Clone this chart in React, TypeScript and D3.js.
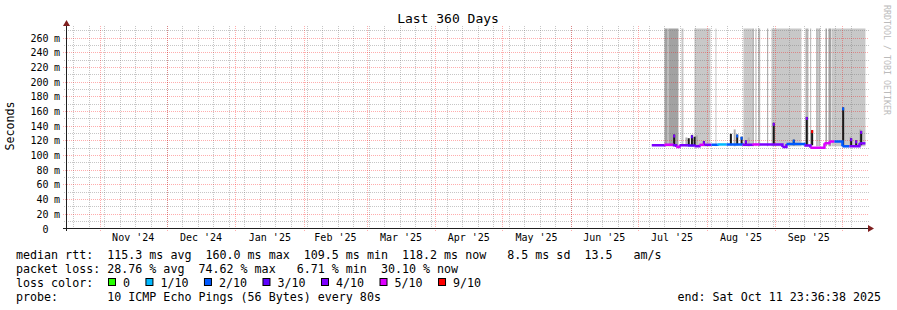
import React from 'react';
import * as d3 from 'd3';

const W = 897;
const H = 310;
const END_MS = Date.UTC(2025, 9, 11, 23, 36, 38);
const SPAN_DAYS = 360;

// Times are "day of 2025" (days since 2025-01-01 00:00)
const lineDays = [187.35, 193.06, 196.8, 198.33, 199.81, 203.41, 206.56, 208.81, 211.06, 214.21, 216.91, 220.96, 228.16, 232.66, 235.81, 246.16, 247.96, 256.06, 258.76, 265.06, 267.31, 269.56, 273.16, 276.31, 280.81];
const lineValues = [113.5, 114, 113.5, 111, 113.5, 113, 112, 114, 114, 114, 114.5, 114.5, 114, 114.5, 114.5, 111, 115, 113, 110, 116, 118.5, 118.5, 112, 112, 116];
const lineLoss = [4, 5, 4, 5, 4, 3, 4, 5, 4, 2, 1, 2, 4, 5, 4, 4, 2, 4, 5, 5, 5, 2, 2, 4, 4];
const lineEndDay = 283.51;

const spikeDays = [197.43, 204.0, 205.41, 206.63, 210.81, 222.96, 225.8, 227.78, 229.71, 242.25, 251.25, 257.1, 259.53, 273.48, 277.08, 279.33, 281.58];
const spikeTops = [128, 123, 127, 125, 119, 129, 128, 125, 120, 144, 121, 152, 134, 165, 123, 120, 133];
const spikeLoss = [4, -1, 3, -1, 4, -1, 2, 2, 4, 4, 2, 4, 6, 2, 4, 4, 4];

const smokeStart = [193.06, 194.55, 194.86, 200.71, 206.56, 216.01, 228.61, 232.53, 234.01, 235.23, 239.28, 241.21, 256.51, 258.63, 261.46, 261.46, 262.8, 265.51, 266.86, 268.21];
const smokeEnd = [194.55, 194.86, 199.36, 201.61, 213.76, 216.46, 232.44, 233.34, 234.46, 236.13, 239.73, 254.71, 257.86, 259.08, 263.04, 261.8, 263.04, 266.19, 267.99, 283.51];
const smokeShade = [2, 0, 2, 0, 0, 0, 0, 1, 1, 1, 2, 0, 1, 1, 0, 2, 2, 2, 2, 0];
const smokeBottom = 112;

const lowSmokeDays = [202.94, 205.64, 207.66, 224.66, 230.96, 259.09, 276.76, 281.14];
const lowSmokeTops = [124, 128, 127, 135, 124, 132, 125, 135];

const yTicks = [0, 20, 40, 60, 80, 100, 120, 140, 160, 180, 200, 220, 240, 260];
const yMinor = [10, 30, 50, 70, 90, 110, 130, 150, 170, 190, 210, 230, 250, 270];

const lossLabels = ['0', '1/10', '2/10', '3/10', '4/10', '5/10', '9/10'];
const lossColors = ['#26ff00', '#00b8ff', '#0059ff', '#5e00ff', '#7e00ff', '#dd00ff', '#ff0000'];
const smokeColors = ['#c8c8c8', '#b4b4b4', '#a2a2a2'];

const legendLine1 = 'median rtt:  115.3 ms avg  160.0 ms max  109.5 ms min  118.2 ms now   8.5 ms sd  13.5   am/s';
const legendLine2 = 'packet loss: 28.76 % avg  74.62 % max   6.71 % min  30.10 % now';
const legendLine3 = 'loss color:';
const legendLine4 = 'probe:       10 ICMP Echo Pings (56 Bytes) every 80s';
const endText = 'end: Sat Oct 11 23:36:38 2025';
const titleText = 'Last 360 Days';
const yLabel = 'Seconds';
const sideText = 'RRDTOOL / TOBI OETIKER';

const MONO = '"DejaVu Sans Mono", monospace';
const dayToDate = (d: number) => new Date(Date.UTC(2025, 0, 1) + d * 864e5);

export default function App() {
  const endDate = new Date(END_MS);
  const startDate = new Date(END_MS - SPAN_DAYS * 864e5);
  const x = d3.scaleUtc().domain([startDate, endDate]).range([66.5, 866.5]);
  const y = d3.scaleLinear().domain([0, 272.5]).range([228.5, 28.5]);
  const px = (v: number) => Math.round(v) + 0.5;

  const months = d3.utcMonth.range(d3.utcMonth.floor(startDate), endDate).filter((m) => m > startDate);
  const monthLabels = d3.utcMonth.range(d3.utcMonth.floor(startDate), endDate)
    .map((m) => ({ m, mid: (x(m) + x(d3.utcMonth.offset(m, 1))) / 2 }))
    .filter((o) => o.mid > 66.5 && o.mid < 866.5);
  const weeks = d3.utcSunday.range(startDate, endDate);
  const fmt = d3.utcFormat("%b '%y");

  const minorColor = 'rgba(120,120,120,0.42)';
  const majorColor = 'rgba(255,0,0,0.32)';

  const lineSegs = lineDays.map((d, i) => {
    const x0 = x(dayToDate(d));
    const x1 = x(dayToDate(i + 1 < lineDays.length ? lineDays[i + 1] : lineEndDay));
    const y0 = y(lineValues[i]);
    const y1 = i + 1 < lineDays.length ? y(lineValues[i + 1]) : y0;
    return { path: `M${x0},${y0}H${x1}V${y1}`, color: lossColors[lineLoss[i]] };
  });

  const boxes: { bx: number; label: string; color: string }[] = [];
  let bx = 108.5;
  lossLabels.forEach((l, i) => {
    boxes.push({ bx, label: l, color: lossColors[i] });
    bx += 15 + l.length * 7.03 + 15.4;
  });

  return (
    <svg width={W} height={H} style={{ display: 'block', position: 'absolute', left: 0, top: 0, background: '#fff' }}>
      <rect x={0} y={0} width={W} height={H} fill="#fff" />
      {smokeStart.map((s, i) => {
        const x0 = x(dayToDate(s));
        const x1 = x(dayToDate(smokeEnd[i]));
        return (
          <rect key={'s' + i} x={x0} y={28.5} width={Math.max(0.8, x1 - x0)} height={y(smokeBottom) - 28.5} fill={smokeColors[smokeShade[i]]} />
        );
      })}
      {lowSmokeDays.map((d, i) => (
        <rect key={'ls' + i} x={x(dayToDate(d)) - 1} y={y(lowSmokeTops[i])} width={2} height={y(smokeBottom) - y(lowSmokeTops[i])} fill="#b0b0b0" />
      ))}
      {yMinor.map((v) => (
        <line key={'ym' + v} x1={64} x2={869} y1={px(y(v))} y2={px(y(v))} stroke={minorColor} strokeDasharray="1,1" shapeRendering="crispEdges" />
      ))}
      {weeks.map((w, i) => (
        <line key={'w' + i} x1={px(x(w))} x2={px(x(w))} y1={26} y2={230} stroke={minorColor} strokeDasharray="1,1" shapeRendering="crispEdges" />
      ))}
      {yTicks.filter((v) => v > 0).map((v) => (
        <line key={'yM' + v} x1={63} x2={869} y1={px(y(v))} y2={px(y(v))} stroke={majorColor} strokeDasharray="1,1" shapeRendering="crispEdges" />
      ))}
      {months.map((m, i) => (
        <line key={'m' + i} x1={px(x(m))} x2={px(x(m))} y1={26} y2={231} stroke={majorColor} strokeDasharray="1,1" shapeRendering="crispEdges" />
      ))}
      {spikeDays.map((d, i) => {
        const cx = x(dayToDate(d));
        const top = y(spikeTops[i]);
        const base = y(lineValues[0]);
        return (
          <g key={'sp' + i}>
            <rect x={cx - 1} y={top} width={2} height={base - top} fill="#1a1a1a" />
            {spikeLoss[i] >= 0 && <rect x={cx - 1} y={top} width={2} height={3} fill={lossColors[spikeLoss[i]]} />}
          </g>
        );
      })}
      {lineSegs.map((s, i) => (
        <path key={'l' + i} d={s.path} fill="none" stroke={s.color} strokeWidth={2.5} />
      ))}
      <line x1={63} x2={869} y1={228.5} y2={228.5} stroke="#1f1f1f" />
      <line x1={66.5} x2={66.5} y1={231} y2={25} stroke="#1f1f1f" />
      <path d="M868,225 L874,228.5 L868,232 Z" fill="#7f1f1f" />
      <path d="M63,26 L66.5,20 L70,26 Z" fill="#7f1f1f" />
      {yTicks.map((v) => (
        <g key={'yl' + v} fontFamily={MONO} fontSize={10} fill="#000">
          <text x={48.5} y={px(y(v)) + 3.5} textAnchor="end">{v}</text>
          {v > 0 && <text x={54} y={px(y(v)) + 3.5}>m</text>}
        </g>
      ))}
      {monthLabels.map((o, i) => (
        <text key={'ml' + i} x={o.mid} y={241} textAnchor="middle" fontFamily={MONO} fontSize={10} fill="#000">{fmt(o.m)}</text>
      ))}
      <text x={448} y={23} textAnchor="middle" fontFamily={MONO} fontSize={13} fill="#000">{titleText}</text>
      <text transform="translate(14,126) rotate(-90)" textAnchor="middle" fontFamily={MONO} fontSize={11.67} fill="#000">{yLabel}</text>
      <text transform="translate(884,5) rotate(90)" fontFamily={MONO} fontSize={8.3} fill="#bbbbbb">{sideText}</text>
      <g fontFamily={MONO} fontSize={11.67} fill="#000" style={{ whiteSpace: 'pre' }}>
        <text x={16} y={258.5} xmlSpace="preserve">{legendLine1}</text>
        <text x={16} y={272.5} xmlSpace="preserve">{legendLine2}</text>
        <text x={16} y={286.5} xmlSpace="preserve">{legendLine3}</text>
        <text x={16} y={300.5} xmlSpace="preserve">{legendLine4}</text>
        <text x={881} y={300.5} textAnchor="end" xmlSpace="preserve">{endText}</text>
        {boxes.map((b, i) => (
          <g key={'b' + i}>
            <rect x={b.bx} y={278.5} width={7} height={7} fill={b.color} stroke="#000" />
            <text x={b.bx + 14.5} y={286.5}>{b.label}</text>
          </g>
        ))}
      </g>
    </svg>
  );
}
